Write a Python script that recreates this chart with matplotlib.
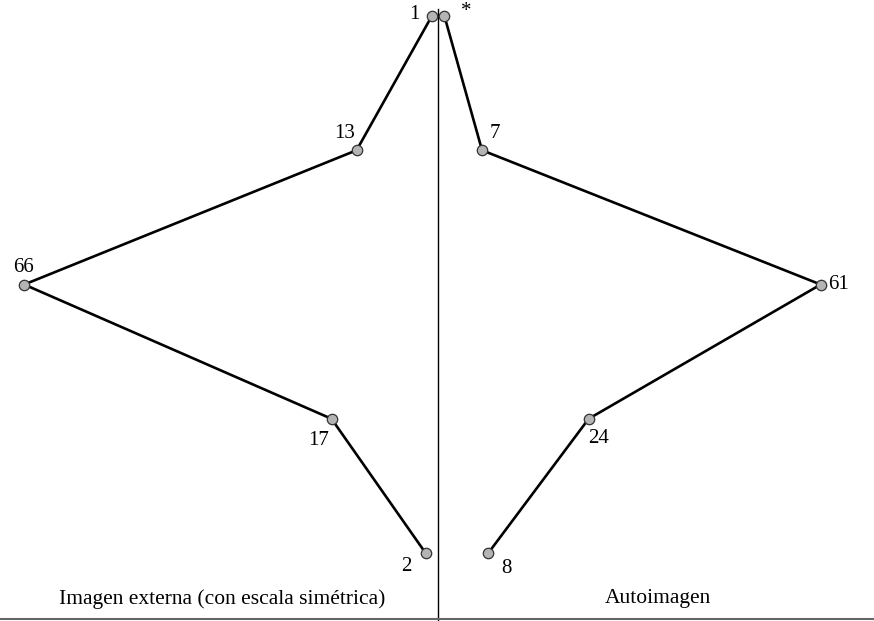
import matplotlib
matplotlib.use("Agg")
import matplotlib.pyplot as plt

left_labels = ["1", "13", "66", "17", "2"]
left_values = [1, 13, 66, 17, 2]
right_labels = ["*", "7", "61", "24", "8"]
right_values = [1, 7, 61, 24, 8]
levels = [0, 1, 2, 3, 4]
left_title = "Imagen externa (con escala simétrica)"
right_title = "Autoimagen"

plt.rcParams['font.family'] = ['Liberation Serif', 'DejaVu Serif']

fig = plt.figure(figsize=(8.74, 6.21), dpi=100)
ax = fig.add_axes([0, 0, 1, 1])
ax.set_xlim(-69.86, 69.5)
ax.set_ylim(4.506, -0.119)
ax.axis('off')

lx = [-v for v in left_values]
rx = list(right_values)
line_kw = dict(color='black', lw=1.9, zorder=2)
mk_kw = dict(marker='o', ms=7.5, mfc='#b4b4b4', mec='#333333', mew=0.9, ls='none', zorder=3)
ax.plot(lx, levels, **line_kw)
ax.plot(rx, levels, **line_kw)
ax.plot(lx, levels, **mk_kw)
ax.plot(rx, levels, **mk_kw)

# center line and baseline
ax.plot([0, 0], [-0.05, 4.506], color='black', lw=1.0, zorder=1)
ax.axhline(4.49, color='#666666', lw=1.5)

fs = 15
left_off = [(-17, 1), (-12, 17), (-1, 17), (-13, -22), (-19, -13)]
right_off = [(22, 4), (13, 17), (18, 0), (10, -20), (18, -15)]
for x, y, t, (dx, dy) in zip(lx, levels, left_labels, left_off):
    ax.annotate(t, (x, y), xytext=(dx, dy), textcoords='offset pixels',
                ha='center', va='center', fontsize=fs)
for x, y, t, (dx, dy) in zip(rx, levels, right_labels, right_off):
    ax.annotate(t, (x, y), xytext=(dx, dy), textcoords='offset pixels',
                ha='center', va='center', fontsize=fs)

ax.text(222 / 874, 1 - 599 / 621, left_title, transform=ax.transAxes, ha='center', va='center', fontsize=15.5)
ax.text(658 / 874, 1 - 599 / 621, right_title, transform=ax.transAxes, ha='center', va='center', fontsize=15.5)

fig.savefig("out.png", dpi=100)
